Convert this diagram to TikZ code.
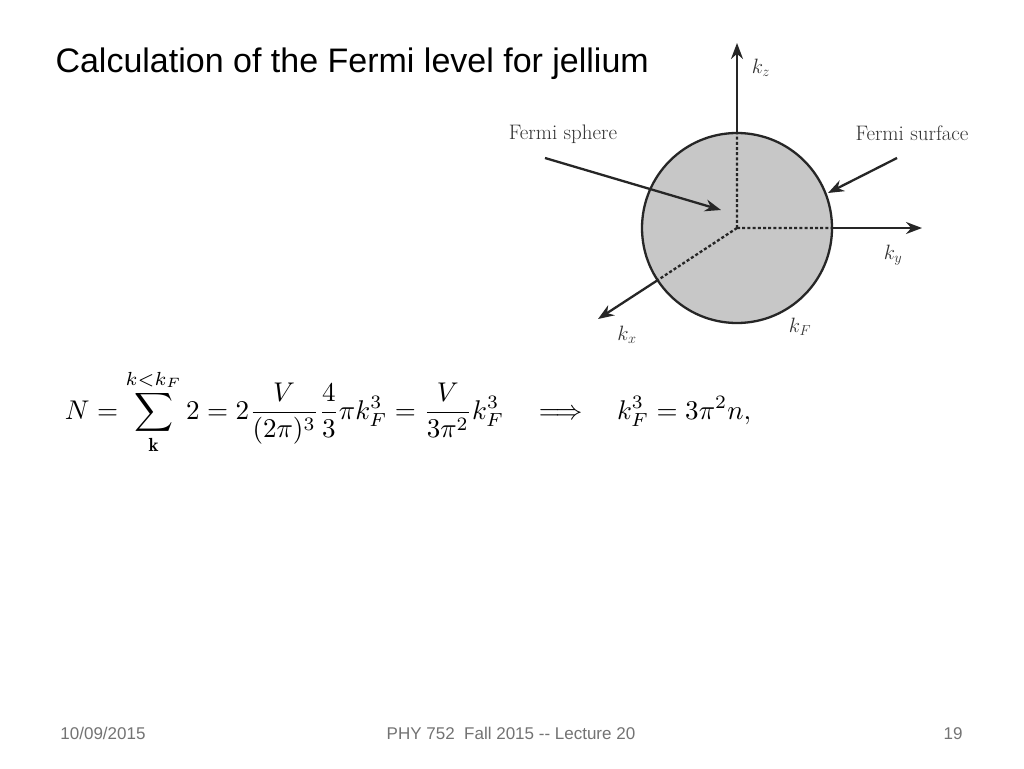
\documentclass[tikz,border=0pt]{standalone}
\usepackage{amsmath,amssymb}
\usepackage{fontspec}
\usetikzlibrary{arrows.meta}
\newfontfamily\slidefont{Liberation Sans}

\begin{document}
\begin{tikzpicture}[x=1pt,y=-1pt,>={Stealth[length=16pt,width=12pt]},
    kaxis/.style={line width=2.3pt,black!85,->},
    kdash/.style={line width=2.3pt,black!85,dash pattern=on 3pt off 2.2pt},
    lbl/.style={black!80,font=\fontsize{21}{24}\selectfont},
    foot/.style={black!55,font=\slidefont\fontsize{17}{20}\selectfont,anchor=base}]
          \fill[white] (0,0) rectangle (1024,768);
          \useasboundingbox (0,0) rectangle (1024,768);
          \node[anchor=base west,font=\slidefont\fontsize{34}{40}\selectfont] (title) at (52,72) {Calculation of the Fermi level for jellium};
          % sphere
          \coordinate (O) at (737,228);
          \filldraw[fill=black!22,draw=black!85,line width=2.3pt] (O) circle[radius=95];
          \coordinate (zs) at (737,133);
          \coordinate (ys) at (832,228);
          \coordinate (xs) at (657.6,280.2);
          \coordinate (zt) at (737,43);
          \coordinate (yt) at (922,228);
          \coordinate (xt) at (598,319);
          \draw[kdash] (O) -- (zs) (O) -- (ys) (O) -- (xs);
          \draw[kaxis] (zs) -- (zt);
          \draw[kaxis] (ys) -- (yt);
          \draw[kaxis] (xs) -- (xt);
          \node[lbl] (kz) at (761,68) {$k_z$};
          \node[lbl] (ky) at (893,255) {$k_y$};
          \node[lbl] (kx) at (627,335) {$k_x$};
          \node[lbl] (kF) at (800,327) {$k_F$};
          \node[lbl] (sphere) at (563,134) {Fermi sphere};
          \node[lbl] (surface) at (912,133) {Fermi surface};
          \coordinate (sa) at (545,158);
          \coordinate (sb) at (721,210);
          \coordinate (fa) at (897,158);
          \coordinate (fb) at (828,193);
          \draw[kaxis] (sa) -- (sb);
          \draw[kaxis] (fa) -- (fb);
          % equation
          \node (eq) at (408,412) {\resizebox{686pt}{!}{$\displaystyle N=\sum_{\mathbf{k}}^{k<k_F}2=2\frac{V}{(2\pi)^3}\frac{4}{3}\pi k_F^3=\frac{V}{3\pi^2}k_F^3\quad\Longrightarrow\quad k_F^3=3\pi^2n,$}};
          % footer
          \node[foot] (date) at (103,739) {10/09/2015};
          \node[foot] (course) at (511,739) {PHY 752\ \ Fall 2015 -{}- Lecture 20};
          \node[foot] (page) at (953,739) {19};
        \end{tikzpicture}
\end{document}
